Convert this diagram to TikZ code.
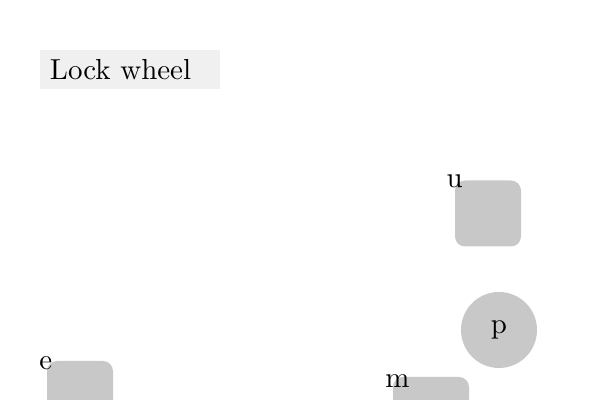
\documentclass[tikz,border=0pt]{standalone}
\usepackage{fontspec}
\setmainfont{lmroman10-regular.otf}
\usepackage{tikz}
\usetikzlibrary{positioning}
\definecolor{lwgray}{RGB}{200,200,200}
\definecolor{lwtitle}{RGB}{240,240,240}

\begin{document}
\begin{tikzpicture}[
    titlebox/.style={rectangle, fill=lwtitle, inner xsep=0.25cm, text width=4.0cm,
        align=left, minimum height=0.975cm, font=\fontsize{20.6}{24}\selectfont},
    unitbox/.style={rectangle, fill=lwgray, rounded corners=0.25cm,
        minimum width=1.65cm, minimum height=1.65cm},
    pivot/.style={circle, fill=lwgray, minimum size=1.9cm, inner sep=0pt,
        font=\fontsize{20.6}{24}\selectfont},
    lbl/.style={inner sep=0pt, font=\fontsize{20.6}{24}\selectfont}
]
\useasboundingbox (0,0) rectangle (15,-10);
\node[titlebox] (title) at (3.25,-1.7375) {Lock wheel};

\node[unitbox] (u) at (12.2,-5.3375) {};
\node[pivot]   (p) at (12.475,-8.25) {p};
\node[unitbox] (e) at (2.0,-9.85) {};
\node[unitbox, minimum width=1.9cm, minimum height=1.9cm] (m) at (10.775,-10.375) {};

\node[lbl] (ulbl) at ([yshift=-0.03cm]u.north west) {u};
\node[lbl] (elbl) at ([xshift=-0.025cm,yshift=-0.05cm]e.north west) {e};
\node[lbl] (mlbl) at ([xshift=0.12cm,yshift=-0.1cm]m.north west) {m};
\end{tikzpicture}
\end{document}
